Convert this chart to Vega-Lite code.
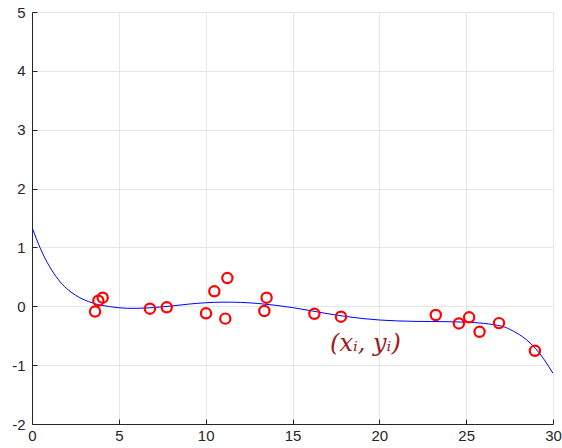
{
  "$schema": "https://vega.github.io/schema/vega-lite/v6.json",
  "width": 521,
  "height": 412,
  "autosize": {"type": "none"},
  "padding": {"left": 32, "top": 12, "right": 9, "bottom": 24},
  "background": "white",
  "config": {
    "view": {"stroke": null},
    "axis": {
      "labelFont": "Liberation Sans",
      "labelFontSize": 15,
      "labelColor": "#262626",
      "domainColor": "#262626",
      "tickColor": "#262626",
      "gridColor": "#e6e6e6",
      "gridWidth": 1,
      "title": null
    }
  },
  "datasets": {
    "pts": [
      {"x": 3.63, "y": -0.09},
      {"x": 3.82, "y": 0.095},
      {"x": 4.07, "y": 0.146},
      {"x": 6.79, "y": -0.041},
      {"x": 7.76, "y": -0.017},
      {"x": 10.02, "y": -0.119},
      {"x": 10.5, "y": 0.255},
      {"x": 11.13, "y": -0.21},
      {"x": 11.25, "y": 0.48},
      {"x": 13.38, "y": -0.08},
      {"x": 13.51, "y": 0.146},
      {"x": 16.26, "y": -0.128},
      {"x": 17.79, "y": -0.177},
      {"x": 23.25, "y": -0.148},
      {"x": 24.58, "y": -0.292},
      {"x": 25.17, "y": -0.187},
      {"x": 25.77, "y": -0.434},
      {"x": 26.89, "y": -0.286},
      {"x": 28.96, "y": -0.757}
    ],
    "curve": [
      {"x": 0, "y": 1.34},
      {"x": 0.5, "y": 0.97},
      {"x": 1, "y": 0.68},
      {"x": 1.5, "y": 0.46},
      {"x": 2, "y": 0.3},
      {"x": 2.5, "y": 0.19},
      {"x": 3, "y": 0.11},
      {"x": 3.5, "y": 0.055},
      {"x": 4, "y": 0.018},
      {"x": 5, "y": -0.025},
      {"x": 6, "y": -0.035},
      {"x": 7, "y": -0.022},
      {"x": 8, "y": 0.004},
      {"x": 9, "y": 0.036},
      {"x": 10, "y": 0.06},
      {"x": 11, "y": 0.07},
      {"x": 12, "y": 0.066},
      {"x": 13, "y": 0.048},
      {"x": 14, "y": 0.018},
      {"x": 15, "y": -0.022},
      {"x": 16, "y": -0.072},
      {"x": 17, "y": -0.125},
      {"x": 18, "y": -0.17},
      {"x": 19, "y": -0.207},
      {"x": 20, "y": -0.233},
      {"x": 21, "y": -0.248},
      {"x": 22, "y": -0.256},
      {"x": 23, "y": -0.259},
      {"x": 24, "y": -0.262},
      {"x": 25, "y": -0.27},
      {"x": 26, "y": -0.29},
      {"x": 27, "y": -0.335},
      {"x": 27.5, "y": -0.39},
      {"x": 28, "y": -0.47},
      {"x": 28.5, "y": -0.575},
      {"x": 29, "y": -0.72},
      {"x": 29.5, "y": -0.91},
      {"x": 30, "y": -1.14}
    ],
    "lbl": [
      {"x": 19.2, "y": -0.64, "t": "(xᵢ, yᵢ)"}
    ]
  },
  "layer": [
    {
      "data": {"name": "curve"},
      "mark": {"type": "line", "color": "#0000ff", "strokeWidth": 1, "interpolate": "natural", "clip": true},
      "encoding": {
        "x": {
          "field": "x", "type": "quantitative",
          "scale": {"domain": [0, 30], "nice": false},
          "axis": {"values": [0, 5, 10, 15, 20, 25, 30], "labelExpr": "'' + datum.value", "tickSize": -5, "labelPadding": 9, "labelFlush": false, "domainWidth": 1}
        },
        "y": {
          "field": "y", "type": "quantitative",
          "scale": {"domain": [-2, 5], "nice": false, "zero": false},
          "axis": {"values": [-2, -1, 0, 1, 2, 3, 4, 5], "labelExpr": "'' + datum.value", "tickSize": -5, "labelPadding": 12, "labelFlush": false, "domainWidth": 1}
        }
      }
    },
    {
      "data": {"name": "pts"},
      "mark": {"type": "point", "shape": "circle", "filled": false, "color": "#ff0000", "strokeWidth": 2.2, "size": 105, "opacity": 1},
      "encoding": {
        "x": {"field": "x", "type": "quantitative"},
        "y": {"field": "y", "type": "quantitative"}
      }
    },
    {
      "data": {"name": "lbl"},
      "mark": {"type": "text", "font": "DejaVu Serif", "fontStyle": "italic", "fontSize": 24, "color": "#9b1c1c", "align": "center", "baseline": "middle"},
      "encoding": {
        "x": {"field": "x", "type": "quantitative"},
        "y": {"field": "y", "type": "quantitative"},
        "text": {"field": "t"}
      }
    }
  ]
}
